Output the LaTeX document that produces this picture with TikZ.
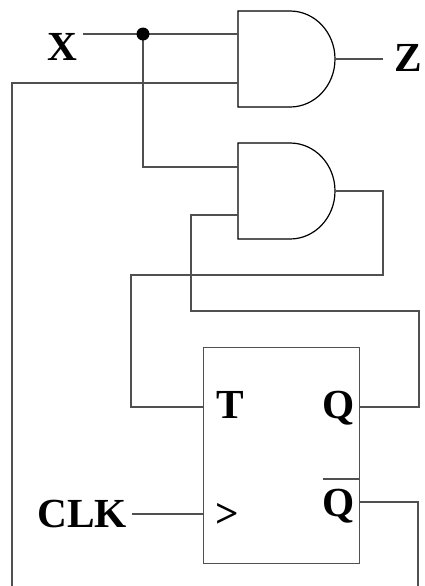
\documentclass[tikz,border=0pt]{standalone}
\usepackage{fontspec}
\setmainfont{Liberation Serif}
\definecolor{wire}{RGB}{80,80,80}
\begin{document}
\begin{tikzpicture}[x=0.75pt,y=-0.75pt,
  wire/.style={draw=wire,line width=1pt},
  gate/.style={draw=black,line width=0.9pt},
  lbl/.style={font=\fontsize{31}{31}\selectfont\bfseries,inner sep=0pt,anchor=base}]
\useasboundingbox (0,0) rectangle (425,586);
% gates
\draw[gate] (238,11) -- (290,11) arc[start angle=-90,end angle=90,x radius=45,y radius=48] -- (238,107) -- cycle;
\draw[gate] (238,143) -- (290,143) arc[start angle=-90,end angle=90,x radius=45,y radius=48] -- (238,239) -- cycle;
% flip-flop box
\node[draw=wire,line width=1pt,minimum width=156*0.75pt,minimum height=216*0.75pt,inner sep=0pt,anchor=north west] (ff) at (203,347) {};
% pins
\coordinate (g1a) at (238,34);
\coordinate (g1b) at (238,83);
\coordinate (g1o) at (335,59);
\coordinate (g2a) at (238,167);
\coordinate (g2b) at (238,215);
\coordinate (g2o) at (335,191);
\coordinate (fT) at (203,407);
\coordinate (fC) at (203,514);
\coordinate (fQ) at (359,407);
\coordinate (fQb) at (359,502);
\coordinate (dot) at (143,34);
\coordinate (xend) at (83,34);
\coordinate (zend) at (383,59);
\coordinate (clkend) at (132,514);
\coordinate (lb) at (12,586);
\coordinate (rb) at (418,586);
% labels
\node[lbl] (X) at (62,60) {X};
\node[lbl] (Z) at (408,71) {Z};
\node[lbl] (T) at (230,418) {T};
\node[lbl] (Q) at (339,418) {Q};
\node[lbl] (Qb) at (339,516) {Q};
\node[lbl] (CLK) at (82,527) {CLK};
\node[lbl] (gt) at (227,527) {>};
\draw[wire] (323,479) -- (359,479);
% wires
\draw[wire] (xend) -- (g1a);
\draw[wire] (dot) |- (g2a);
\draw[wire] (lb) |- (g1b);
\draw[wire] (g1o) -- (zend);
\draw[wire] (g2o) -- (383,191) -- (383,275) -- (131,275) |- (fT);
\draw[wire] (fQ) -- (419,407) -- (419,311) -- (191,311) |- (g2b);
\draw[wire] (fQb) -| (rb);
\draw[wire] (clkend) -- (fC);
\fill (dot) circle (6.5);
\end{tikzpicture}
\end{document}
